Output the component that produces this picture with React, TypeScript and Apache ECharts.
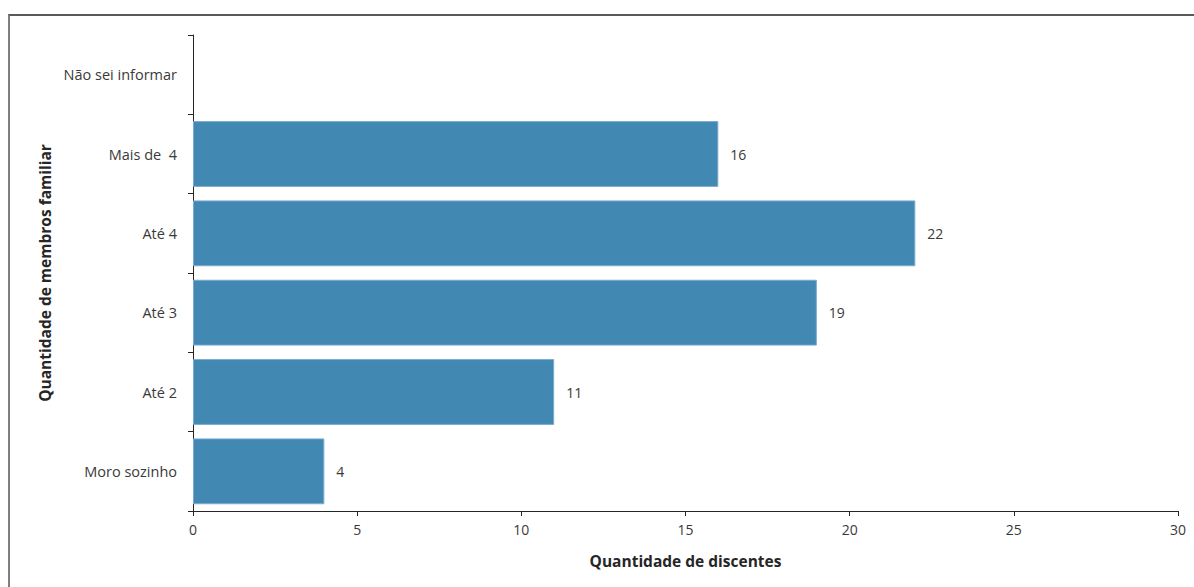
import React, { useEffect, useRef } from "react";
import * as echarts from "echarts";

// Family size categories, bottom to top
const categories = ["Moro sozinho", "Até 2", "Até 3", "Até 4", "Mais de  4", "Não sei informar"];
// Number of students per category
const values = [4, 11, 19, 22, 16, 0];
const xTicks = [0, 5, 10, 15, 20, 25, 30];

const FONT = "'Open Sans', 'Noto Sans', sans-serif";
const TEXT = "#3a3a3a";

export default function App() {
  const ref = useRef<HTMLDivElement>(null);

  useEffect(() => {
    if (!ref.current) return;
    const chart = echarts.init(ref.current, undefined, { renderer: "svg" });
    chart.setOption({
      animation: false,
      backgroundColor: "#ffffff",
      textStyle: { fontFamily: FONT },
      grid: { left: 193, right: 16, top: 35, bottom: 76, containLabel: false },
      xAxis: {
        type: "value",
        min: xTicks[0],
        max: xTicks[xTicks.length - 1],
        interval: xTicks[1] - xTicks[0],
        name: "Quantidade de discentes",
        nameLocation: "middle",
        nameGap: 42,
        nameTextStyle: { fontFamily: FONT, fontSize: 15.5, fontWeight: "bold", color: "#262626" },
        axisLine: { show: true, lineStyle: { color: "#262626", width: 1 } },
        axisTick: { show: true, inside: false, length: 5, lineStyle: { color: "#262626" } },
        axisLabel: { margin: 11, fontFamily: FONT, fontSize: 14, color: TEXT },
        splitLine: { show: false },
      },
      yAxis: {
        type: "category",
        data: categories,
        name: "Quantidade de membros familiar",
        nameLocation: "middle",
        nameGap: 140,
        nameRotate: 90,
        nameTextStyle: { fontFamily: FONT, fontSize: 15.5, fontWeight: "bold", color: "#262626" },
        axisLine: { show: true, lineStyle: { color: "#262626", width: 1 } },
        axisTick: { show: true, inside: false, length: 5, alignWithLabel: false, lineStyle: { color: "#262626" } },
        axisLabel: { margin: 16, fontFamily: FONT, fontSize: 14.5, color: TEXT },
        splitLine: { show: false },
      },
      series: [
        {
          type: "bar",
          data: values.map((v) => (v === 0 ? null : v)),
          barCategoryGap: "17%",
          itemStyle: { color: "#4189b3", borderColor: "#79acd0", borderWidth: 1 },
          label: {
            show: true,
            position: "right",
            distance: 12,
            fontFamily: FONT,
            fontSize: 14,
            color: TEXT,
          },
        },
      ],
    });
    return () => chart.dispose();
  }, []);

  return (
    <div style={{ position: "fixed", left: 0, top: 0, width: 1194, height: 587, background: "#fff" }}>
      <div
        ref={ref}
        style={{ position: "absolute", left: 0, top: 0, width: 1194, height: 587 }}
      />
      <div
        style={{
          position: "absolute",
          left: 8,
          top: 14,
          width: 1200,
          height: 600,
          borderLeft: "2px solid #7f7f7f",
          borderTop: "2px solid #5a5a5a",
          pointerEvents: "none",
        }}
      />
    </div>
  );
}
